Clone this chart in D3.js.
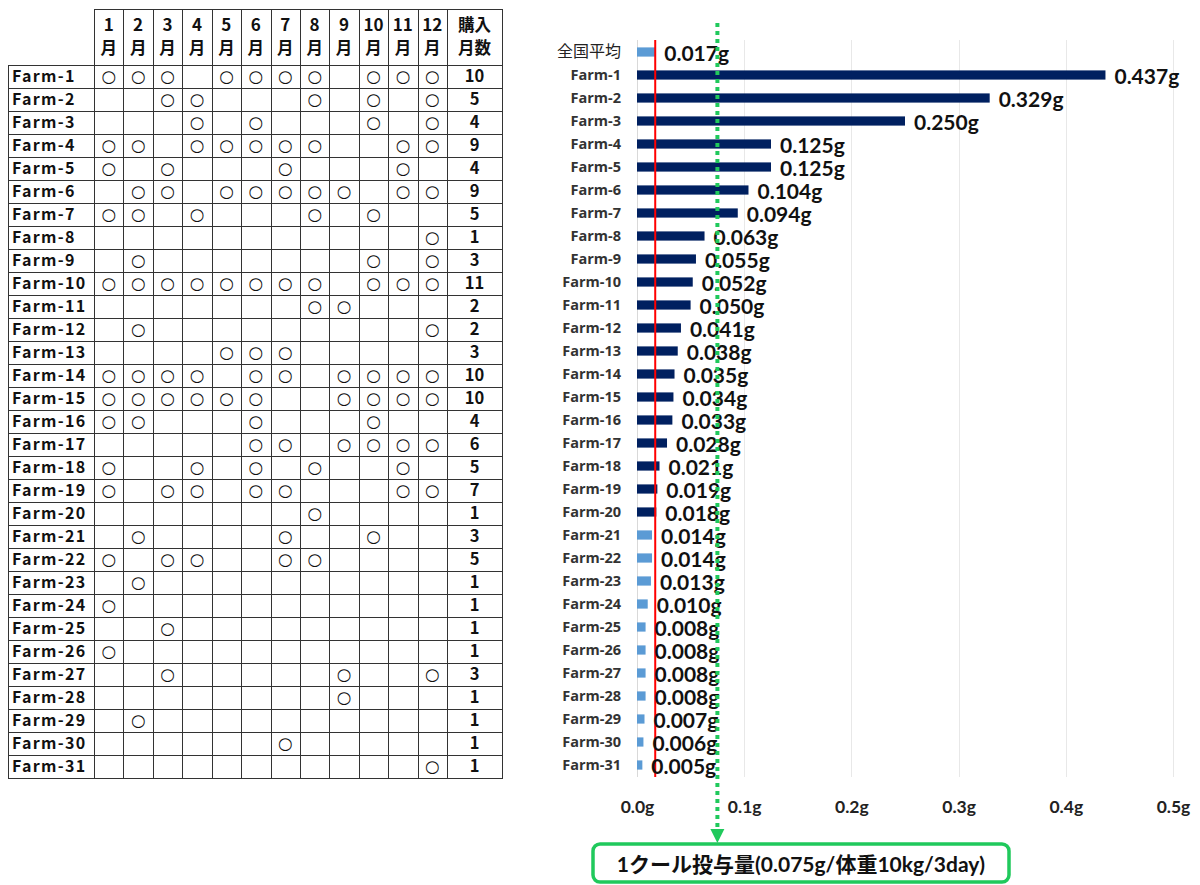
<!DOCTYPE html>
<html lang="ja">
<head>
<meta charset="utf-8">
<title>月別購入状況と投与量</title>
<script src="https://cdn.jsdelivr.net/npm/d3@7"></script>
<style>
  html, body { margin: 0; padding: 0; background: #fff; }
  svg { display: block; }
</style>
</head>
<body>
<svg id="chart" width="1200" height="885"></svg>
<script>
// ---- data ----
const farms = d3.range(1, 32).map(i => "Farm-" + i);
const monthNumbers = ["1", "2", "3", "4", "5", "6", "7", "8", "9", "10", "11", "12"];
const monthUnit = "月";
const countHeader = ["購入", "月数"];

// months in which each farm made a purchase
const purchaseMonths = [
  [1, 2, 3, 5, 6, 7, 8, 10, 11, 12],
  [3, 4, 8, 10, 12],
  [4, 6, 10, 12],
  [1, 2, 4, 5, 6, 7, 8, 11, 12],
  [1, 3, 7, 11],
  [2, 3, 5, 6, 7, 8, 9, 11, 12],
  [1, 2, 4, 8, 10],
  [12],
  [2, 10, 12],
  [1, 2, 3, 4, 5, 6, 7, 8, 10, 11, 12],
  [8, 9],
  [2, 12],
  [5, 6, 7],
  [1, 2, 3, 4, 6, 7, 9, 10, 11, 12],
  [1, 2, 3, 4, 5, 6, 9, 10, 11, 12],
  [1, 2, 6, 10],
  [6, 7, 9, 10, 11, 12],
  [1, 4, 6, 8, 11],
  [1, 3, 4, 6, 7, 11, 12],
  [8],
  [2, 7, 10],
  [1, 3, 4, 7, 8],
  [2],
  [1],
  [3],
  [1],
  [3, 9, 12],
  [9],
  [2],
  [7],
  [12]
];

const averageLabel = "全国平均";
const averageDose = 0.017;
const doseValues = [0.437, 0.329, 0.250, 0.125, 0.125, 0.104, 0.094, 0.063, 0.055, 0.052,
                    0.050, 0.041, 0.038, 0.035, 0.034, 0.033, 0.028, 0.021, 0.019, 0.018,
                    0.014, 0.014, 0.013, 0.010, 0.008, 0.008, 0.008, 0.008, 0.007, 0.006, 0.005];
const courseDose = 0.075;
const courseLabel = "1クール投与量(0.075g/体重10kg/3day)";
const axisTicks = [0, 0.1, 0.2, 0.3, 0.4, 0.5];

// ---- styles ----
const DARK = "#002060";
const LIGHT = "#5b9bd5";
const GREEN = "#20c95c";
const LINE = "#333";
const CJK = "'Noto Sans CJK JP', sans-serif";
const LATIN = "Lato, 'Noto Sans CJK JP', sans-serif";

const svg = d3.select("#chart");

// ================= purchase table =================
const table = svg.append("g").attr("class", "purchase-table");

const tableLeft = 8, nameRight = 94, monthRight = 447, tableRight = 502;
const headTop = 9, bodyTop = 65, bodyBottom = 778;

const colX = d3.scaleBand().domain(monthNumbers).range([nameRight, monthRight]);
const rowY = d3.scaleBand().domain(farms).range([bodyTop, bodyBottom]);

// cell borders
const hLines = [headTop].concat(farms.map(f => rowY(f)), [bodyBottom]);
table.selectAll("line.h").data(hLines).join("line")
  .attr("class", "h")
  .attr("x1", (d, i) => i === 0 ? nameRight : tableLeft)
  .attr("x2", tableRight)
  .attr("y1", d => Math.round(d) + 0.5)
  .attr("y2", d => Math.round(d) + 0.5)
  .attr("stroke", LINE).attr("stroke-width", 1);

const vLines = [{x: tableLeft, top: bodyTop}]
  .concat(monthNumbers.map(m => ({x: colX(m), top: headTop})))
  .concat([{x: monthRight, top: headTop}, {x: tableRight, top: headTop}]);
table.selectAll("line.v").data(vLines).join("line")
  .attr("class", "v")
  .attr("x1", d => Math.round(d.x) + 0.5).attr("x2", d => Math.round(d.x) + 0.5)
  .attr("y1", d => d.top).attr("y2", bodyBottom + 1)
  .attr("stroke", LINE).attr("stroke-width", 1);

// header
const headMid = colX.bandwidth() / 2;
const head = table.append("g")
  .attr("font-family", CJK).attr("font-weight", "bold").attr("fill", "#111")
  .attr("text-anchor", "middle");
head.selectAll("text.num").data(monthNumbers).join("text")
  .attr("class", "num")
  .attr("x", d => colX(d) + headMid).attr("y", 25)
  .attr("dy", "0.36em").attr("font-size", 17)
  .text(d => d);
head.selectAll("text.unit").data(monthNumbers).join("text")
  .attr("class", "unit")
  .attr("x", d => colX(d) + headMid).attr("y", 48)
  .attr("dy", "0.36em").attr("font-size", 16.5)
  .text(monthUnit);
head.selectAll("text.cnt").data(countHeader).join("text")
  .attr("class", "cnt")
  .attr("x", (monthRight + tableRight) / 2).attr("y", (d, i) => i ? 48 : 25)
  .attr("dy", "0.36em").attr("font-size", 16.5)
  .text(d => d);

// body rows
const rows = table.selectAll("g.row").data(farms.map((f, i) => ({farm: f, months: purchaseMonths[i]})))
  .join("g").attr("class", "row")
  .attr("transform", d => `translate(0,${rowY(d.farm) + rowY.bandwidth() / 2})`);

rows.append("text")
  .attr("x", 12).attr("dy", "0.36em")
  .attr("font-family", CJK).attr("font-weight", "bold").attr("font-size", 16)
  .attr("letter-spacing", 1.3).attr("fill", "#111")
  .text(d => d.farm);

rows.selectAll("text.mark").data(d => d.months).join("text")
  .attr("class", "mark")
  .attr("x", m => colX(String(m)) + headMid).attr("dy", "0.36em")
  .attr("text-anchor", "middle")
  .attr("font-family", "'DejaVu Sans', sans-serif").attr("font-size", 16.5).attr("fill", "#111")
  .text("○");

rows.append("text")
  .attr("x", (monthRight + tableRight) / 2).attr("dy", "0.36em")
  .attr("text-anchor", "middle")
  .attr("font-family", CJK).attr("font-weight", "bold").attr("font-size", 16.5).attr("fill", "#111")
  .text(d => d.months.length);

// ================= dose bar chart =================
const chart = svg.append("g").attr("class", "dose-chart");
const categories = [averageLabel].concat(farms);
const values = [averageDose].concat(doseValues);
const bars = categories.map((c, i) => ({cat: c, value: values[i], avg: i === 0}));

const x = d3.scaleLinear().domain([0, 0.5]).range([637, 1173]);
const y = d3.scaleBand().domain(categories).range([40.5, 776.5]).paddingInner(0.6).paddingOuter(0.3);
const plotTop = 40, plotBottom = 777;

// gridlines
chart.append("g").selectAll("line").data(axisTicks.slice(1)).join("line")
  .attr("x1", d => Math.round(x(d)) + 0.5).attr("x2", d => Math.round(x(d)) + 0.5)
  .attr("y1", plotTop).attr("y2", plotBottom)
  .attr("stroke", "#e8e8e8").attr("stroke-width", 1);

// category axis line
chart.append("line")
  .attr("x1", Math.round(x(0)) + 0.5).attr("x2", Math.round(x(0)) + 0.5)
  .attr("y1", plotTop).attr("y2", plotBottom)
  .attr("stroke", "#d9d9d9").attr("stroke-width", 1);

// bars
chart.append("g").selectAll("rect").data(bars).join("rect")
  .attr("x", x(0))
  .attr("y", d => y(d.cat))
  .attr("width", d => x(d.value) - x(0))
  .attr("height", y.bandwidth())
  .attr("fill", d => (!d.avg && d.value > averageDose) ? DARK : LIGHT);

// category labels
const yAxis = d3.axisLeft(y).tickSize(0).tickPadding(0);
const yAxisG = chart.append("g").attr("transform", "translate(621,0)").call(yAxis);
yAxisG.select(".domain").remove();
yAxisG.selectAll("text")
  .attr("font-family", "'Open Sans', sans-serif").attr("font-weight", 700)
  .attr("font-size", 14.5).attr("fill", "#333")
  .filter(d => d === averageLabel)
  .attr("font-family", CJK).attr("font-weight", 400).attr("font-size", 16).attr("fill", "#222");

// national average reference line
chart.append("line")
  .attr("x1", x(averageDose)).attr("x2", x(averageDose))
  .attr("y1", plotTop).attr("y2", plotBottom)
  .attr("stroke", "#ff0000").attr("stroke-width", 2);

// value labels
chart.append("g").selectAll("text").data(bars).join("text")
  .attr("x", d => x(d.value) + 9)
  .attr("y", d => y(d.cat) + y.bandwidth() / 2 + 1)
  .attr("dy", "0.36em")
  .attr("font-family", LATIN).attr("font-weight", 700).attr("font-size", 21)
  .attr("fill", "#111")
  .text(d => d3.format(".3f")(d.value) + "g");

// value axis
const xAxis = d3.axisBottom(x).tickValues(axisTicks).tickSize(0).tickPadding(0)
  .tickFormat(d => d3.format(".1f")(d) + "g");
const xAxisG = chart.append("g").attr("transform", "translate(0,807)").call(xAxis);
xAxisG.select(".domain").remove();
xAxisG.selectAll("text")
  .attr("dy", "0.36em")
  .attr("font-family", LATIN).attr("font-weight", 700).attr("font-size", 17.5).attr("fill", "#222");

// course dose marker: dotted line with arrow down to the note box
const cx = x(courseDose);
const boxTop = 844;
chart.append("line")
  .attr("x1", cx).attr("x2", cx)
  .attr("y1", 23).attr("y2", boxTop - 14)
  .attr("stroke", GREEN).attr("stroke-width", 4).attr("stroke-dasharray", "4 4");
chart.append("path")
  .attr("d", `M${cx - 7},${boxTop - 15}L${cx + 7},${boxTop - 15}L${cx},${boxTop - 1}Z`)
  .attr("fill", GREEN);

// note box
const note = chart.append("g");
note.append("rect")
  .attr("x", 593).attr("y", boxTop).attr("width", 416).attr("height", 38)
  .attr("rx", 7)
  .attr("fill", "#fff").attr("stroke", GREEN).attr("stroke-width", 3.5);
note.append("text")
  .attr("x", 801).attr("y", boxTop + 20).attr("dy", "0.36em")
  .attr("text-anchor", "middle")
  .attr("font-family", LATIN).attr("font-weight", 700).attr("font-size", 21).attr("fill", "#111")
  .text(courseLabel);
</script>
</body>
</html>
